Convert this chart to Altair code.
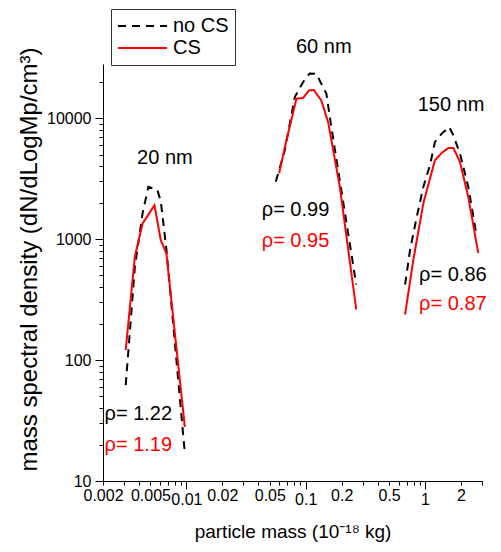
import altair as alt
import pandas as pd

FONT = "Liberation Sans"

# ---- data ----
groups = ["20 nm", "60 nm", "150 nm"]

# 20 nm
m20_nocs = [0.0031, 0.0037, 0.0043, 0.0048, 0.0057, 0.0061, 0.0068, 0.0097]
v20_nocs = [62, 590, 1650, 2700, 2550, 2050, 820, 17]
m20_cs = [0.0031, 0.0037, 0.0043, 0.0054, 0.0061, 0.0068, 0.0097]
v20_cs = [121, 720, 1350, 1900, 980, 760, 28]

# 60 nm
m60_nocs = [0.0561, 0.0667, 0.081, 0.0949, 0.108, 0.123, 0.133, 0.149, 0.164, 0.265]
v60_nocs = [2980, 5400, 14900, 19800, 23400, 23200, 19800, 15900, 8400, 420]
m60_cs = [0.0598, 0.0689, 0.0836, 0.0949, 0.1066, 0.1166, 0.135, 0.154, 0.193, 0.265]
v60_cs = [3490, 6550, 14450, 14700, 16900, 17100, 14000, 9270, 2710, 262]

# 150 nm
m150_nocs = [0.68, 0.749, 0.853, 0.968, 1.10, 1.21, 1.38, 1.597, 1.726, 1.96, 2.30, 2.71]
v150_nocs = [421, 817, 1535, 2710, 4085, 6350, 7445, 8440, 7200, 5095, 2710, 1050]
m150_cs = [0.68, 0.798, 0.968, 1.21, 1.38, 1.567, 1.726, 1.96, 2.30, 2.79]
v150_cs = [238, 676, 1978, 4490, 5155, 5665, 5665, 4345, 2240, 767]

series_names = ["no CS", "CS"]
series_colors = ["black", "red"]

# annotations
size_labels = ["20 nm", "60 nm", "150 nm"]
size_x = [0.0066, 0.1416, 1.651]
size_y = [4705, 38900, 12850]

rho_black_labels = ["ρ= 1.22", "ρ= 0.99", "ρ= 0.86"]
rho_red_labels = ["ρ= 1.19", "ρ= 0.95", "ρ= 0.87"]
rho_x = [0.00206, 0.0428, 0.891]
rho_black_y = [35.9, 1726, 508]
rho_red_y = [19.95, 968, 291]

x_tick_values = [0.002, 0.003, 0.004, 0.005, 0.006, 0.007, 0.008, 0.009,
                 0.01, 0.02, 0.03, 0.04, 0.05, 0.06, 0.07, 0.08, 0.09,
                 0.1, 0.2, 0.3, 0.4, 0.5, 0.6, 0.7, 0.8, 0.9,
                 1, 2, 3]
x_label_values = [0.002, 0.005, 0.01, 0.02, 0.05, 0.1, 0.2, 0.5, 1, 2]
x_major = [0.01, 0.1, 1]

y_tick_values = [10, 20, 30, 40, 50, 60, 70, 80, 90,
                 100, 200, 300, 400, 500, 600, 700, 800, 900,
                 1000, 2000, 3000, 4000, 5000, 6000, 7000, 8000, 9000,
                 10000, 20000]
y_major = [10, 100, 1000, 10000]

# ---- build table ----
rows = []
for grp, ser, ms, vs in [
    ("20 nm", "no CS", m20_nocs, v20_nocs),
    ("60 nm", "no CS", m60_nocs, v60_nocs),
    ("150 nm", "no CS", m150_nocs, v150_nocs),
    ("20 nm", "CS", m20_cs, v20_cs),
    ("60 nm", "CS", m60_cs, v60_cs),
    ("150 nm", "CS", m150_cs, v150_cs),
]:
    for m, v in zip(ms, vs):
        rows.append({"group": grp + " " + ser, "series": ser, "mass": m, "density": v})
df = pd.DataFrame(rows)

size_df = pd.DataFrame({"label": size_labels, "mass": size_x, "density": size_y})
rho_b_df = pd.DataFrame({"label": rho_black_labels, "mass": rho_x, "density": rho_black_y})
rho_r_df = pd.DataFrame({"label": rho_red_labels, "mass": rho_x, "density": rho_red_y})

x_scale = alt.Scale(type="log", domain=[0.002, 3], nice=False)
y_scale = alt.Scale(type="log", domain=[10, 28000], nice=False)


def js_list(vals):
    return "[" + ",".join(repr(v) for v in vals) + "]"


x_axis = alt.Axis(
    title="particle mass (10⁻¹⁸ kg)",
    values=x_tick_values,
    format="~g",
    labelExpr="indexof(" + js_list(x_label_values) + ", datum.value) >= 0 ? datum.label : ''",
    tickSize={"condition": {"test": "indexof(" + js_list(x_major) + ", datum.value) >= 0", "value": 8}, "value": 4},
    labelOverlap=False,
    labelFlush=False,
    grid=False,
    domainColor="black",
    tickColor="black",
    labelColor="black",
    titleColor="black",
    labelFont=FONT,
    titleFont=FONT,
    labelFontSize=16,
    titleFontSize=19,
    titleFontWeight="normal",
    labelPadding=2,
    titleBaseline="alphabetic",
    titleY=56,
)

y_axis = alt.Axis(
    title="mass spectral density (dN/dLogMp/cm³)",
    values=y_tick_values,
    format="d",
    labelExpr="indexof(" + js_list(y_major) + ", datum.value) >= 0 ? datum.label : ''",
    tickSize={"condition": {"test": "indexof(" + js_list(y_major) + ", datum.value) >= 0", "value": 8}, "value": 4},
    labelOverlap=False,
    labelFlush=False,
    grid=False,
    domainColor="black",
    tickColor="black",
    labelColor="black",
    titleColor="black",
    labelFont=FONT,
    titleFont=FONT,
    labelFontSize=16,
    titleFontSize=24,
    titleFontWeight="normal",
    labelPadding=4,
    titleBaseline="alphabetic",
    titleX=-67,
    titleY=195,
)

legend = alt.Legend(
    title=None,
    orient="none",
    legendX=8,
    legendY=-55,
    fillColor="white",
    strokeColor="#333333",
    padding=6,
    symbolType="stroke",
    symbolSize=2400,
    symbolStrokeWidth=2,
    clipHeight=22,
    labelFont=FONT,
    labelFontSize=20,
    labelColor="black",
    labelOffset=5,
    rowPadding=-2,
)

lines = alt.Chart(df).mark_line(strokeWidth=2).encode(
    x=alt.X("mass:Q", scale=x_scale, axis=x_axis),
    y=alt.Y("density:Q", scale=y_scale, axis=y_axis),
    color=alt.Color("series:N", scale=alt.Scale(domain=series_names, range=series_colors), legend=legend),
    strokeDash=alt.StrokeDash("series:N", scale=alt.Scale(domain=series_names, range=[[8, 6], [1, 0]]), legend=legend),
    detail="group:N",
)

size_text = alt.Chart(size_df).mark_text(font=FONT, fontSize=20, align="center", baseline="middle", color="black").encode(
    x=alt.X("mass:Q", scale=x_scale), y=alt.Y("density:Q", scale=y_scale), text="label:N"
)
rho_b_text = alt.Chart(rho_b_df).mark_text(font=FONT, fontSize=20, align="left", baseline="middle", color="black").encode(
    x=alt.X("mass:Q", scale=x_scale), y=alt.Y("density:Q", scale=y_scale), text="label:N"
)
rho_r_text = alt.Chart(rho_r_df).mark_text(font=FONT, fontSize=20, align="left", baseline="middle", color="red").encode(
    x=alt.X("mass:Q", scale=x_scale), y=alt.Y("density:Q", scale=y_scale), text="label:N"
)

chart = alt.layer(lines, size_text, rho_b_text, rho_r_text).properties(
    width=379,
    height=417,
    autosize=alt.AutoSizeParams(type="none"),
    padding={"left": 103, "top": 64, "right": 19, "bottom": 71},
    background="white",
).configure_view(stroke=None)

chart.save("out.html", embed_options={"renderer": "svg", "actions": False})
